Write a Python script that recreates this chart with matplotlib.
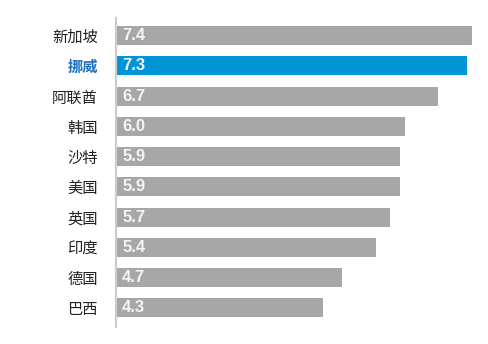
import matplotlib
matplotlib.use("Agg")
import matplotlib.pyplot as plt

categories = ["新加坡", "挪威", "阿联酋", "韩国", "沙特", "美国", "英国", "印度", "德国", "巴西"]
values = [7.4, 7.3, 6.7, 6.0, 5.9, 5.9, 5.7, 5.4, 4.7, 4.3]
highlight = "挪威"

plt.rcParams['font.family'] = ['Noto Sans CJK SC', 'DejaVu Sans']

fig = plt.figure(figsize=(4.88, 3.44), dpi=100)
ax = fig.add_axes([116/488, 17/344, 1 - 116/488, 309/344])

gray = "#a7a7a7"
blue = "#0095d6"
colors = [blue if c == highlight else gray for c in categories]
ypos = list(range(len(categories)))
ax.barh(ypos, values, height=0.63, color=colors, edgecolor="none")

for y, v in zip(ypos, values):
    ax.annotate(f"{v:.1f}", xy=(0, y), xytext=(4.5, 0), textcoords="offset points",
                ha="left", va="center", color="#f4f4f4", fontsize=12,
                fontweight="bold", family=["Liberation Sans", "DejaVu Sans"])

ax.set_xlim(0, (488 - 116) / 48.1)
ax.set_ylim(9.63, -0.58)
ax.set_yticks(ypos)
ax.set_yticklabels(categories, fontsize=11)
for lbl, c in zip(ax.get_yticklabels(), categories):
    if c == highlight:
        lbl.set_color("#1d6fc0")
        lbl.set_fontweight("bold")
    else:
        lbl.set_color("#222222")
ax.tick_params(axis="y", length=0, pad=13)
ax.set_xticks([])
for s in ["top", "right", "bottom"]:
    ax.spines[s].set_visible(False)
ax.spines["left"].set_color("#cccccc")
ax.spines["left"].set_linewidth(1.6)

fig.savefig("out.png", dpi=100)
